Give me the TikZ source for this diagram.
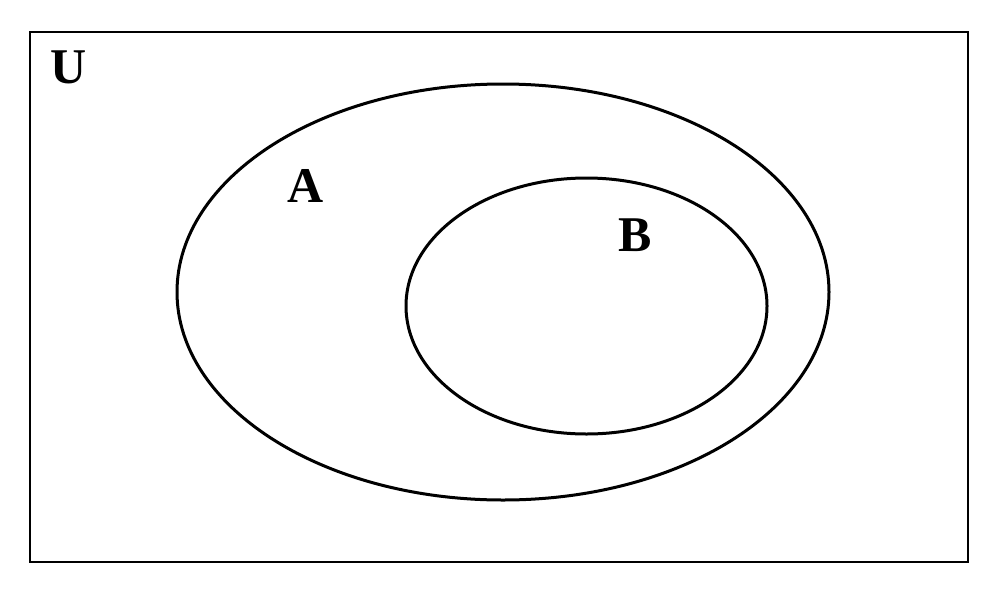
\documentclass[tikz,border=0pt]{standalone}
\usepackage{fontspec}
\setmainfont{Liberation Serif}
\begin{document}
\begin{tikzpicture}[x=1pt,y=-1pt,
  setline/.style={draw=black,line width=3pt},
  lbl/.style={font=\fontsize{50}{50}\selectfont\bfseries,anchor=base,inner sep=0pt}]
\useasboundingbox (0,0) rectangle (1000,605);
\draw[line width=2pt] (30,32) rectangle (968,562);
\draw[setline] (503,292) ellipse [x radius=326, y radius=208];
\draw[setline] (586.5,306) ellipse [x radius=180.5, y radius=128];
\node[lbl] (U) at (69,83) {U};
\node[lbl] (A) at (306,202) {A};
\node[lbl] (B) at (635,251) {B};
\end{tikzpicture}
\end{document}
